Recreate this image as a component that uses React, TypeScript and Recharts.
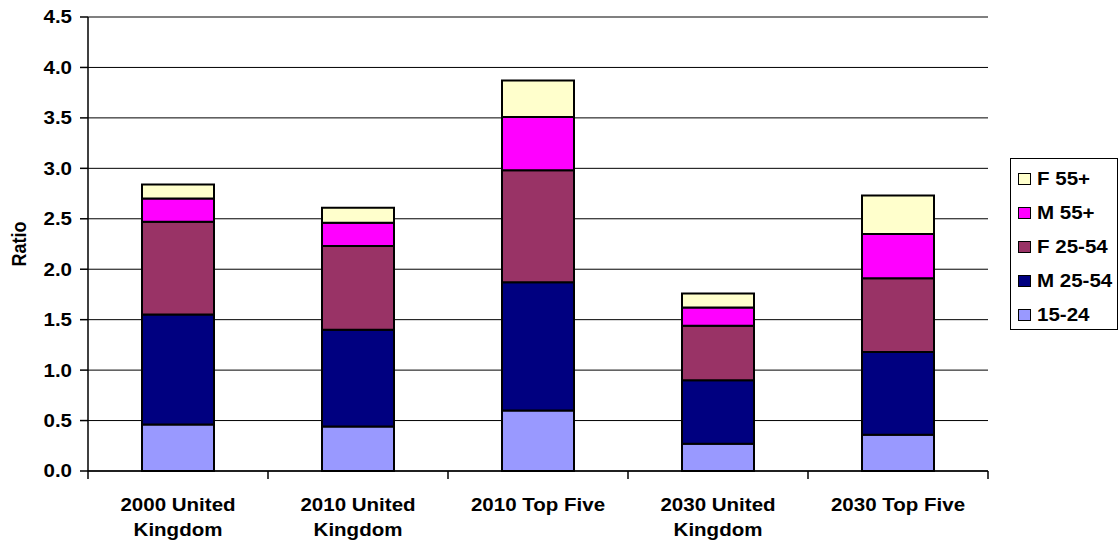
import React from "react";
import {
  BarChart,
  Bar,
  XAxis,
  YAxis,
  CartesianGrid,
  Legend,
  ReferenceLine,
} from "recharts";

const categories = [
  "2000 United Kingdom",
  "2010 United Kingdom",
  "2010 Top Five",
  "2030 United Kingdom",
  "2030 Top Five",
];
const categoryLines: Record<string, string[]> = {
  "2000 United Kingdom": ["2000 United", "Kingdom"],
  "2010 United Kingdom": ["2010 United", "Kingdom"],
  "2010 Top Five": ["2010 Top Five"],
  "2030 United Kingdom": ["2030 United", "Kingdom"],
  "2030 Top Five": ["2030 Top Five"],
};

const age1524 = [0.46, 0.44, 0.6, 0.27, 0.36];
const male2554 = [1.09, 0.96, 1.27, 0.63, 0.82];
const female2554 = [0.92, 0.83, 1.11, 0.54, 0.73];
const male55 = [0.23, 0.23, 0.53, 0.18, 0.44];
const female55 = [0.14, 0.15, 0.36, 0.14, 0.38];

const yTicks = [0, 0.5, 1, 1.5, 2, 2.5, 3, 3.5, 4, 4.5];

const series = [
  { key: "a1524", name: "15-24", color: "#9999FF", values: age1524 },
  { key: "m2554", name: "M 25-54", color: "#000080", values: male2554 },
  { key: "f2554", name: "F 25-54", color: "#993366", values: female2554 },
  { key: "m55", name: "M 55+", color: "#FF00FF", values: male55 },
  { key: "f55", name: "F 55+", color: "#FFFFCC", values: female55 },
];

const data = categories.map((c, i) => {
  const row: Record<string, string | number> = { cat: c };
  series.forEach((s) => (row[s.key] = s.values[i]));
  return row;
});

const FONT = "'Liberation Sans', Arial, sans-serif";
const SIZE = 18;
const STRETCH = 1.14;

function YTick(props: any) {
  const { x, y, payload } = props;
  return (
    <text
      transform={`translate(${x},${y}) scale(${STRETCH},1)`}
      textAnchor="end"
      dy="0.36em"
      fontFamily={FONT}
      fontWeight="bold"
      fontSize={SIZE}
      fill="#000"
    >
      {Number(payload.value).toFixed(1)}
    </text>
  );
}

function XTick(props: any) {
  const { x, y, payload, index, visibleTicksCount } = props;
  const half = payload.offset || 90;
  const lines = categoryLines[payload.value] || [payload.value];
  return (
    <g>
      <line x1={x - half} x2={x - half} y1={y} y2={y + 8} stroke="#000" strokeWidth={1.5} />
      {index === visibleTicksCount - 1 && (
        <line x1={x + half} x2={x + half} y1={y} y2={y + 8} stroke="#000" strokeWidth={1.5} />
      )}
      <text
        transform={`translate(${x},${y + 40}) scale(${STRETCH},1)`}
        textAnchor="middle"
        fontFamily={FONT}
        fontWeight="bold"
        fontSize={SIZE}
        fill="#000"
      >
        {lines.map((l, i) => (
          <tspan key={i} x={0} dy={i === 0 ? 0 : 25}>
            {l}
          </tspan>
        ))}
      </text>
    </g>
  );
}

function RatioLabel(props: any) {
  const vb = props.viewBox || { x: 0, y: 0, width: 88, height: 454 };
  const cx = vb.x + 19;
  const cy = vb.y + vb.height / 2;
  return (
    <text
      transform={`translate(${cx},${cy}) rotate(-90) scale(1,${STRETCH})`}
      textAnchor="middle"
      dy="0.36em"
      fontFamily={FONT}
      fontWeight="bold"
      fontSize={SIZE}
      fill="#000"
    >
      Ratio
    </text>
  );
}

function LegendBox() {
  const items = [...series].reverse();
  return (
    <div
      style={{
        width: 108,
        height: 172,
        boxSizing: "border-box",
        border: "1.5px solid #000",
        background: "#fff",
        paddingTop: 3,
      }}
    >
      {items.map((s) => (
        <div
          key={s.key}
          style={{ display: "flex", alignItems: "center", height: 34, paddingLeft: 7 }}
        >
          <span
            style={{
              display: "inline-block",
              width: 13,
              height: 12,
              boxSizing: "border-box",
              background: s.color,
              border: "1.5px solid #000",
              marginRight: 6,
            }}
          />
          <span
            style={{
              fontFamily: FONT,
              fontWeight: "bold",
              fontSize: SIZE,
              display: "inline-block",
              transform: `scale(${STRETCH},1)`,
              transformOrigin: "left center",
              whiteSpace: "nowrap",
            }}
          >
            {s.name}
          </span>
        </div>
      ))}
    </div>
  );
}

export default function App() {
  return (
    <div style={{ position: "absolute", left: 0, top: 0, width: 1120, height: 544, background: "#fff" }}>
      <BarChart
        width={1120}
        height={544}
        data={data}
        margin={{ top: 17, right: 132, bottom: 0, left: 0 }}
        barCategoryGap="30%"
      >
        <CartesianGrid vertical={false} stroke="#000" />
        <XAxis
          dataKey="cat"
          height={73}
          tickLine={false}
          tickSize={0}
          tickMargin={0}
          interval={0}
          tick={<XTick />}
          axisLine={{ stroke: "#000", strokeWidth: 1.5 }}
        />
        <YAxis
          width={88}
          domain={[0, 4.5]}
          ticks={yTicks}
          interval={0}
          tickSize={8}
          tickMargin={8}
          tick={<YTick />}
          tickLine={{ stroke: "#000", strokeWidth: 1.5 }}
          axisLine={{ stroke: "#000", strokeWidth: 1.5 }}
          label={<RatioLabel />}
        />
        <YAxis
          yAxisId="border"
          orientation="right"
          width={0}
          domain={[0, 4.5]}
          tick={false}
          tickLine={false}
          axisLine={{ stroke: "#808080", strokeWidth: 2 }}
        />
        <ReferenceLine y={4.5} stroke="#808080" strokeWidth={2} />
        {series.map((s) => (
          <Bar
            key={s.key}
            dataKey={s.key}
            name={s.name}
            stackId="a"
            fill={s.color}
            stroke="#000"
            strokeWidth={2}
            isAnimationActive={false}
          />
        ))}
        <Legend
          layout="vertical"
          align="center"
          verticalAlign="middle"
          content={<LegendBox />}
          wrapperStyle={{ left: 1010, top: 158, width: 108, height: 172 }}
        />
      </BarChart>
    </div>
  );
}
